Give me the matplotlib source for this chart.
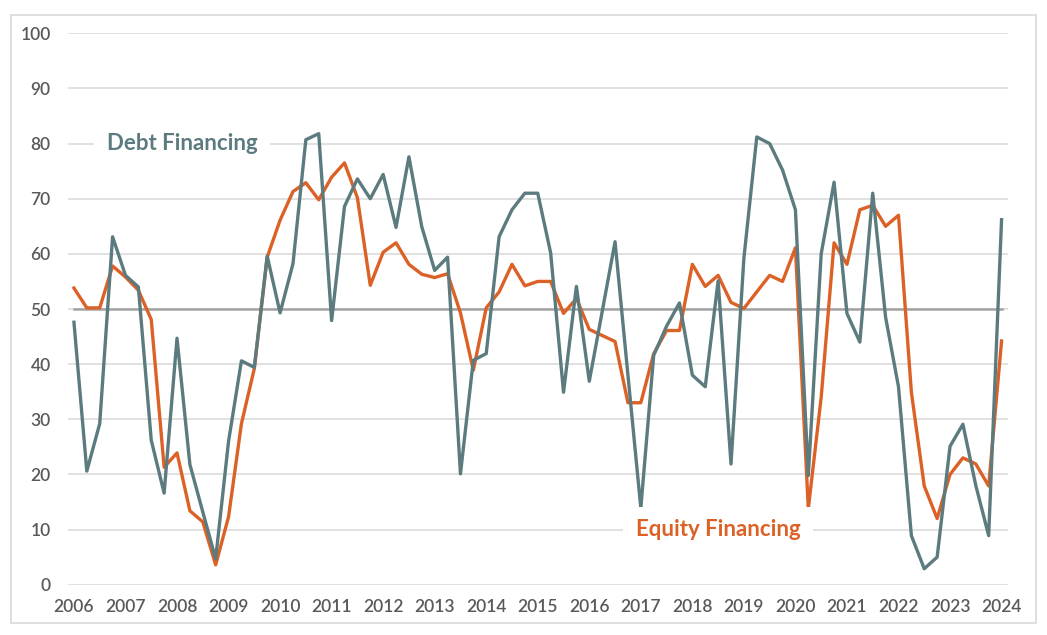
import numpy as np
import matplotlib
matplotlib.use('Agg')
import matplotlib.pyplot as plt
from matplotlib.patches import Rectangle

# quarterly readings, Q1 2006 .. Q1 2024
debt = [47.6, 20.6, 29.2, 63.1, 56.1, 54.0, 26.2, 16.6, 44.7, 21.8, 13.2, 4.7,
        26.0, 40.6, 39.4, 59.6, 49.3, 58.2, 80.7, 81.8, 47.9, 68.6, 73.6, 70.0,
        74.4, 64.8, 77.6, 64.9, 57.0, 59.4, 20.1, 40.7, 41.9, 63.1, 68.0, 71.0,
        71.0, 60.2, 34.9, 54.1, 36.9, 49.5, 62.2, 38.0, 13.9, 41.6, 46.9, 51.1,
        38.0, 35.9, 55.1, 21.9, 59.2, 81.2, 80.0, 75.2, 68.0, 19.8, 60.0, 73.0,
        49.2, 44.0, 71.0, 48.5, 35.9, 8.9, 2.9, 5.0, 25.1, 29.1, 18.0, 8.9, 66.2]
equity = [53.8, 50.2, 50.2, 57.8, 55.8, 53.4, 48.1, 21.3, 23.9, 13.4, 11.4, 3.6,
          12.3, 29.2, 39.2, 59.4, 66.1, 71.3, 72.9, 69.8, 73.9, 76.5, 70.2, 54.3,
          60.3, 62.0, 58.1, 56.3, 55.7, 56.4, 49.3, 38.9, 50.2, 53.1, 58.1, 54.2,
          55.0, 55.0, 49.2, 51.9, 46.3, 45.2, 44.1, 33.0, 33.0, 41.9, 46.1, 46.1,
          58.1, 54.1, 56.1, 51.2, 50.1, 53.1, 56.1, 55.0, 61.1, 13.8, 34.0, 62.0,
          58.1, 68.0, 68.8, 65.0, 67.0, 34.9, 17.9, 12.0, 20.0, 23.0, 21.9, 17.9, 44.2]
years = list(range(2006, 2025))
neutral = 50

teal = '#5b7b7f'
orange = '#dc6127'
tick_col = '#595959'

plt.rcParams['font.family'] = ['Lato', 'DejaVu Sans']

fig = plt.figure(figsize=(10.47, 6.35), dpi=100)
fig.patches.append(Rectangle((11 / 1047, 12 / 635), 1025 / 1047, 608 / 635,
                             transform=fig.transFigure, fill=False,
                             ec='#d9d9d9', lw=1.2))
ax = fig.add_axes([67.5 / 1047, 50.3 / 635, 940.5 / 1047, 551.4 / 635])

x = np.arange(len(debt))
ax.plot(x, [neutral] * len(x), color='#a3a3a3', lw=1.8, zorder=2)
ax.plot(x, equity, color=orange, lw=2.4, zorder=3)
ax.plot(x, debt, color=teal, lw=2.4, zorder=4)

ax.set_xlim(-0.5, len(x) - 0.5)
ax.set_ylim(0, 100)
ax.set_yticks(range(0, 101, 10))
ax.set_xticks(x[::4])
ax.set_xticklabels(years)
ax.grid(axis='y', color='#d9d9d9', lw=1.1)
ax.set_axisbelow(True)
for s in ax.spines.values():
    s.set_visible(False)
ax.tick_params(length=0, labelsize=12.5, labelcolor=tick_col)
ax.tick_params(axis='y', pad=12)
ax.tick_params(axis='x', pad=10)
for lab in ax.get_xticklabels() + ax.get_yticklabels():
    lab.set_fontweight('semibold')

ax.text(2.55, 80, 'Debt Financing', color=teal, fontsize=16, fontweight='bold',
        va='center', ha='left', zorder=5,
        bbox=dict(fc='white', ec='none', pad=9))
ax.text(43.6, 10, 'Equity Financing', color=orange, fontsize=16, fontweight='bold',
        va='center', ha='left', zorder=5,
        bbox=dict(fc='white', ec='none', pad=9))

fig.savefig('out.png', dpi=100)
